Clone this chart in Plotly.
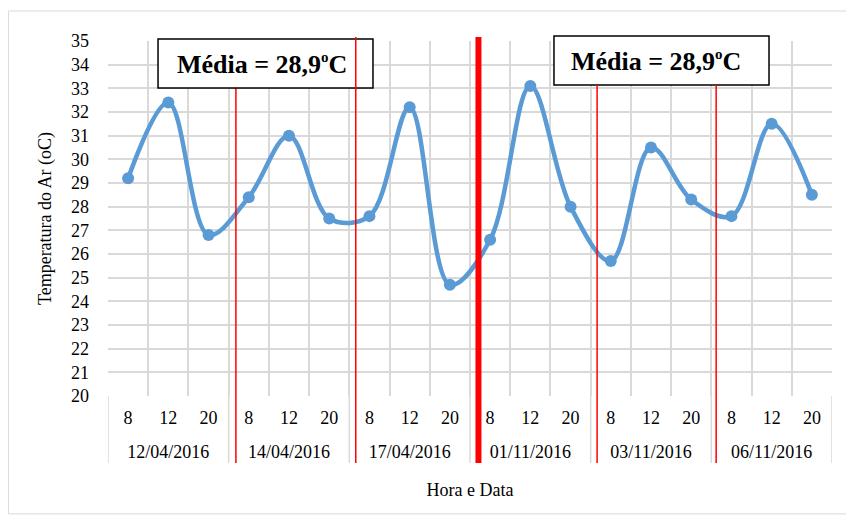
import plotly.graph_objects as go

dates = ["12/04/2016", "14/04/2016", "17/04/2016", "01/11/2016", "03/11/2016", "06/11/2016"]
hours = ["8", "12", "20"]
temps = [29.2, 32.4, 26.8,
         28.4, 31.0, 27.5,
         27.6, 32.2, 24.7,
         26.6, 33.1, 28.0,
         25.7, 30.5, 28.3,
         27.6, 31.5, 28.5]
mean_label = "Média = 28,9<sup><span style='font-size:15px'>o</span></sup>C"

n = len(temps)
nh = len(hours)
x_idx = list(range(n))
hour_text = [h for _ in dates for h in hours]
date_pos = [g * nh + (nh - 1) / 2 for g in range(len(dates))]
boundaries = [i - 0.5 for i in range(n + 1)]
group_bounds = [g * nh - 0.5 for g in range(len(dates) + 1)]
xr = [-0.5, n - 0.5]

FONT = "Liberation Serif, Times New Roman, serif"
GRID = "#d9d9d9"
TF = dict(family=FONT, size=18, color="black")

fig = go.Figure()
fig.add_trace(go.Scatter(
    x=x_idx, y=temps,
    mode="lines+markers",
    line=dict(color="#5B9BD5", width=4.5, shape="spline", smoothing=1),
    marker=dict(color="#5B9BD5", size=12),
    showlegend=False,
))

shapes = []
# outer chart border
shapes.append(dict(type="rect", xref="paper", yref="paper",
                   x0=-0.1375, x1=1.025, y0=-0.332, y1=1.0845,
                   line=dict(color=GRID, width=1), layer="below"))
# category group dividers in label area
for gb in group_bounds:
    shapes.append(dict(type="line", xref="x", yref="paper", x0=gb, x1=gb,
                       y0=-0.1887, y1=0, line=dict(color=GRID, width=1.5), layer="below"))
# boxes
box1 = dict(x0=0.0691, x1=0.366, y0=0.8676, y1=1.0056)
box2 = dict(x0=0.616, x1=0.913, y0=0.876, y1=1.014)
red_thin = dict(color="#FF0000", width=1.5)
shapes.append(dict(type="line", xref="x", yref="paper", x0=2.68, x1=2.68,
                   y0=-0.1887, y1=box1["y0"], line=red_thin, layer="above"))
for b in (box1, box2):
    shapes.append(dict(type="rect", xref="paper", yref="paper",
                       line=dict(color="black", width=1.5), fillcolor="white",
                       layer="above", **b))
shapes.append(dict(type="line", xref="x", yref="paper", x0=5.66, x1=5.66,
                   y0=-0.1887, y1=1.011, line=red_thin, layer="above"))
shapes.append(dict(type="line", xref="x", yref="paper", x0=8.71, x1=8.71,
                   y0=-0.1887, y1=1.011, line=dict(color="#FF0000", width=6), layer="above"))
shapes.append(dict(type="line", xref="x", yref="paper", x0=11.66, x1=11.66,
                   y0=-0.1887, y1=box2["y0"], line=red_thin, layer="above"))
shapes.append(dict(type="line", xref="x", yref="paper", x0=14.62, x1=14.62,
                   y0=-0.1887, y1=box2["y0"], line=red_thin, layer="above"))

annotations = [
    dict(xref="paper", yref="paper", x=(262 - 108) / 724, y=(395 - 63) / 355,
         text="<b>" + mean_label + "</b>", showarrow=False,
         font=dict(family=FONT, size=26, color="black"), xanchor="center", yanchor="middle"),
    dict(xref="paper", yref="paper", x=(656 - 108) / 724, y=(395 - 60) / 355,
         text="<b>" + mean_label + "</b>", showarrow=False,
         font=dict(family=FONT, size=26, color="black"), xanchor="center", yanchor="middle"),
]

fig.update_layout(
    width=854, height=517,
    margin=dict(l=100, r=30, t=33, b=129),
    paper_bgcolor="white", plot_bgcolor="white",
    font=TF,
    shapes=shapes, annotations=annotations,
    xaxis=dict(
        range=xr, tickmode="array", tickvals=boundaries, showticklabels=False,
        showgrid=True, gridcolor=GRID, gridwidth=1.5, zeroline=False, ticks="",
        automargin=False,
    ),
    xaxis2=dict(
        overlaying="x", anchor="y", side="bottom", range=xr,
        tickmode="array", tickvals=x_idx, ticktext=hour_text,
        showgrid=False, zeroline=False, ticks="", tickfont=TF,
        ticklabelstandoff=9, automargin=False,
    ),
    xaxis3=dict(
        overlaying="x", anchor="y", side="bottom", range=xr,
        tickmode="array", tickvals=date_pos, ticktext=dates,
        showgrid=False, zeroline=False, ticks="", tickfont=TF,
        ticklabelstandoff=43, automargin=False,
        title=dict(text="Hora e Data", font=TF, standoff=22),
    ),
    yaxis=dict(
        range=[20, 35], dtick=1, showgrid=True, gridcolor=GRID, gridwidth=1.5,
        zeroline=False, ticks="", tickfont=TF, ticklabelstandoff=18,
        automargin=False,
        title=dict(text="Temperatura do Ar (oC)", font=TF, standoff=14),
    ),
)
# invisible traces so the overlay axes are rendered
fig.add_trace(go.Scatter(x=[None], y=[None], xaxis="x2", showlegend=False, hoverinfo="skip"))
fig.add_trace(go.Scatter(x=[None], y=[None], xaxis="x3", showlegend=False, hoverinfo="skip"))

fig.write_html("out.html")
